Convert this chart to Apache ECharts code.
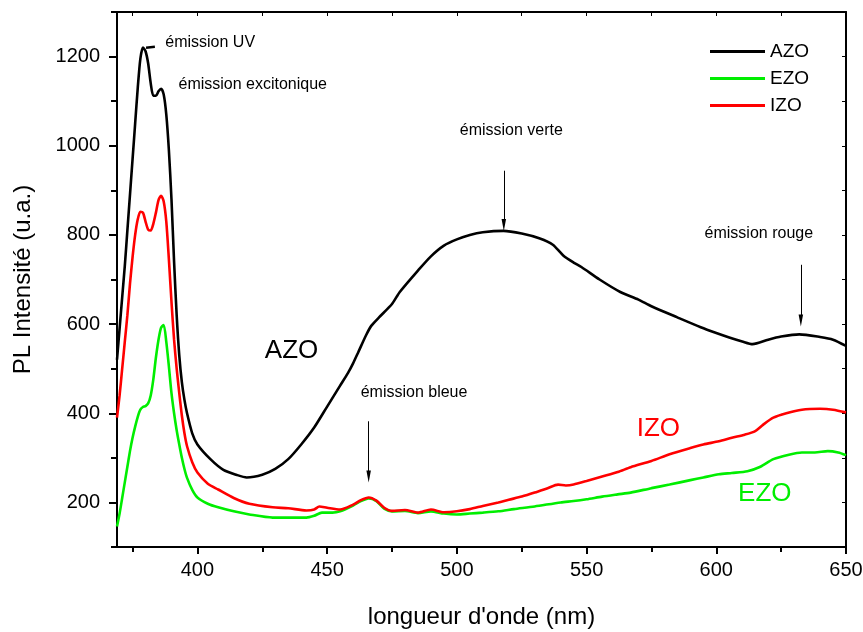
<!DOCTYPE html>
<html>
<head>
<meta charset="utf-8">
<script src="https://cdn.jsdelivr.net/npm/echarts@6/dist/echarts.min.js"></script>
<style>
  html, body { margin: 0; padding: 0; background: #fff; }
  #chart { width: 863px; height: 632px; }
</style>
</head>
<body>
<div id="chart"></div>
<script>
// Photoluminescence spectra of doped ZnO films

const azoNm = [369,370,371,372,373,374,375,376,377,378,379,380,381,382,383,384,385,386,387,388,389,390,391,392,393,394,395,396,398,400,405,410,415,419,425,430,435,440,445,450,455,458,460,462,465,467,470,475,478,485,490,495,500,505,510,518,525,532,537,541,545,548,555,563,570,575,585,594,600,605,610,614,620,625,632,640,645,650];
const azoPL = [520,590,660,730,810,890,970,1050,1130,1195,1220,1212,1185,1140,1112,1112,1122,1128,1115,1070,990,880,740,620,530,470,430,400,355,330,297,273,262,256,262,275,297,330,368,415,462,490,512,537,575,596,615,645,672,720,752,776,790,800,806,809,803,792,778,754,738,728,700,672,655,640,615,593,580,570,561,555,565,572,577,571,565,551];

const izoNm = [369,370,371,372,373,374,375,376,377,378,379,380,381,382,383,384,385,386,387,388,389,390,391,392,393,394,395,396,398,400,404,408,414,420,429,435,442,445,447,450,455,460,463,466,469,472,475,480,485,490,495,500,505,510,516,520,525,530,535,539,542,545,550,556,562,567,575,582,590,595,601,606,611,615,618,622,627,633,640,645,650];
const izoPL = [390,440,500,560,620,690,750,800,835,852,850,830,812,810,825,850,878,888,875,830,745,650,565,500,445,395,355,326,290,267,242,229,210,197,189,187,182,184,191,188,184,195,205,211,204,188,181,183,177,184,178,180,185,192,200,206,213,222,232,240,238,240,248,258,268,279,293,308,322,330,337,345,352,360,374,390,400,408,410,408,402];

const ezoNm = [369,370,371,372,373,374,375,376,377,378,379,380,381,382,383,384,385,386,387,388,389,390,391,392,393,394,395,396,398,400,404,408,414,420,429,436,442,445,448,452,455,460,463,466,469,472,475,480,485,490,495,500,505,510,516,522,530,540,545,550,556,562,567,575,582,590,595,601,606,612,617,622,628,633,638,643,647,650];
const ezoPL = [146,175,210,245,280,315,345,370,392,408,414,416,422,440,476,525,565,592,598,560,505,445,400,362,330,300,275,255,228,211,197,189,180,173,166,166,166,170,177,177,180,193,203,209,203,186,180,181,176,180,175,173,175,177,180,185,191,200,203,207,213,218,222,232,240,250,256,263,266,270,280,297,307,312,312,315,312,306];

// Axis ticks
const xMajor = [400,450,500,550,600,650];
const xMinor = [375,425,475,525,575,625];
const yMajor = [200,400,600,800,1000,1200];
const yMinor = [100,300,500,700,900,1100,1300];

// Annotations: [text, wavelength, intensity, align, colour, size]
const notes = [
  ['émission UV', 387.6, 1231, 'left', '#000', 16],
  ['émission excitonique', 392.7, 1137, 'left', '#000', 16],
  ['émission verte', 521, 1034, 'center', '#000', 16],
  ['émission rouge', 616.4, 802, 'center', '#000', 16],
  ['émission bleue', 483.5, 447, 'center', '#000', 16],
  ['AZO', 436.3, 539, 'center', '#000', 26],
  ['IZO', 577.7, 366, 'center', '#ff0000', 26],
  ['EZO', 618.7, 220, 'center', '#00ee00', 26]
];
// Arrows: [wavelength, from intensity, to intensity]
const arrows = [
  [518.1, 944, 822],
  [632.6, 733, 608],
  [466.0, 382, 258]
];

const FONT = 'Liberation Sans, Arial, sans-serif';
const XMIN = 369, XMAX = 650, YMIN = 100, YMAX = 1300;

const zip = (a, b) => a.map((v, i) => [v, b[i]]);

function lineSeries(name, nm, pl, color) {
  return {
    name, type: 'line', data: zip(nm, pl),
    xAxisIndex: 0, yAxisIndex: 0,
    showSymbol: false, smooth: 0.25,
    lineStyle: { color, width: 2.6 },
    itemStyle: { color },
    emphasis: { disabled: true },
    animation: false, z: 3
  };
}

const azo = lineSeries('AZO', azoNm, azoPL, '#000000');
azo.markLine = {
  silent: true, animation: false,
  symbol: ['none', 'path://M3,0 L6,16 L0,16 Z'],
  symbolSize: 12, symbolKeepAspect: true,
  label: { show: false },
  lineStyle: { color: '#000', width: 1, type: 'solid' },
  data: arrows.map(a => [{ coord: [a[0], a[1]] }, { coord: [a[0], a[2]] }])
    .concat([[{ coord: [383.6, 1222], lineStyle: { width: 2.5 } }, { coord: [380.2, 1220], symbol: 'none' }]])
};
azo.markPoint = {
  silent: true, animation: false, symbol: 'circle', symbolSize: 0,
  data: notes.map(n => ({
    coord: [n[1], n[2]], value: 0,
    label: {
      show: true, formatter: n[0], position: 'inside', align: n[3], verticalAlign: 'middle',
      color: n[4], fontSize: n[5], fontFamily: FONT
    }
  }))
};

const axisBase = { type: 'value', min: XMIN, max: XMAX, splitLine: { show: false } };
const lineBlack = { show: true, lineStyle: { color: '#000', width: 2 } };
const plain = v => String(v);

const option = {
  backgroundColor: '#ffffff',
  animation: false,
  grid: { left: 117, right: 17, top: 12, bottom: 85, containLabel: false, outerBoundsMode: 'none' },
  legend: {
    data: ['AZO', 'EZO', 'IZO'], orient: 'vertical', left: 705, top: 37,
    icon: 'rect', itemWidth: 55, itemHeight: 3, itemGap: 8,
    textStyle: { fontSize: 19, fontFamily: FONT, color: '#000' },
    selectedMode: false
  },
  xAxis: [
    Object.assign({}, axisBase, {
      position: 'bottom',
      name: "longueur d'onde (nm)", nameLocation: 'middle', nameGap: 58,
      nameTextStyle: { fontSize: 24, fontFamily: FONT, color: '#000' },
      axisLine: lineBlack,
      axisTick: { show: true, inside: false, length: 7, customValues: xMajor, lineStyle: { color: '#000', width: 2 } },
      axisLabel: { show: true, customValues: xMajor, formatter: plain, margin: 13, fontSize: 20, fontFamily: FONT, color: '#000' }
    }),
    Object.assign({}, axisBase, {
      position: 'bottom',
      axisLine: { show: false },
      axisTick: { show: true, inside: false, length: 5, customValues: xMinor, lineStyle: { color: '#000', width: 2 } },
      axisLabel: { show: false }
    }),
    Object.assign({}, axisBase, {
      position: 'top',
      axisLine: lineBlack,
      axisTick: { show: true, inside: true, length: 4, customValues: xMajor.concat(xMinor), lineStyle: { color: '#000', width: 1 } },
      axisLabel: { show: false }
    })
  ],
  yAxis: [
    {
      type: 'value', min: YMIN, max: YMAX, position: 'left', splitLine: { show: false },
      name: 'PL Intensité (u.a.)', nameLocation: 'middle', nameGap: 82,
      nameTextStyle: { fontSize: 24, fontFamily: FONT, color: '#000' },
      axisLine: lineBlack,
      axisTick: { show: true, inside: false, length: 8, customValues: yMajor, lineStyle: { color: '#000', width: 2 } },
      axisLabel: { show: true, customValues: yMajor, formatter: plain, margin: 17, fontSize: 20, fontFamily: FONT, color: '#000' }
    },
    {
      type: 'value', min: YMIN, max: YMAX, position: 'left', splitLine: { show: false },
      axisLine: { show: false },
      axisTick: { show: true, inside: false, length: 6, customValues: yMinor, lineStyle: { color: '#000', width: 2 } },
      axisLabel: { show: false }
    },
    {
      type: 'value', min: YMIN, max: YMAX, position: 'right', splitLine: { show: false },
      axisLine: lineBlack,
      axisTick: { show: true, inside: true, length: 4, customValues: yMajor.concat(yMinor), lineStyle: { color: '#000', width: 1 } },
      axisLabel: { show: false }
    }
  ],
  series: [
    lineSeries('EZO', ezoNm, ezoPL, '#00ee00'),
    lineSeries('IZO', izoNm, izoPL, '#ff0000'),
    azo
  ]
};

const chart = echarts.init(document.getElementById('chart'), null, { renderer: 'canvas' });
chart.setOption(option);
</script>
</body>
</html>
